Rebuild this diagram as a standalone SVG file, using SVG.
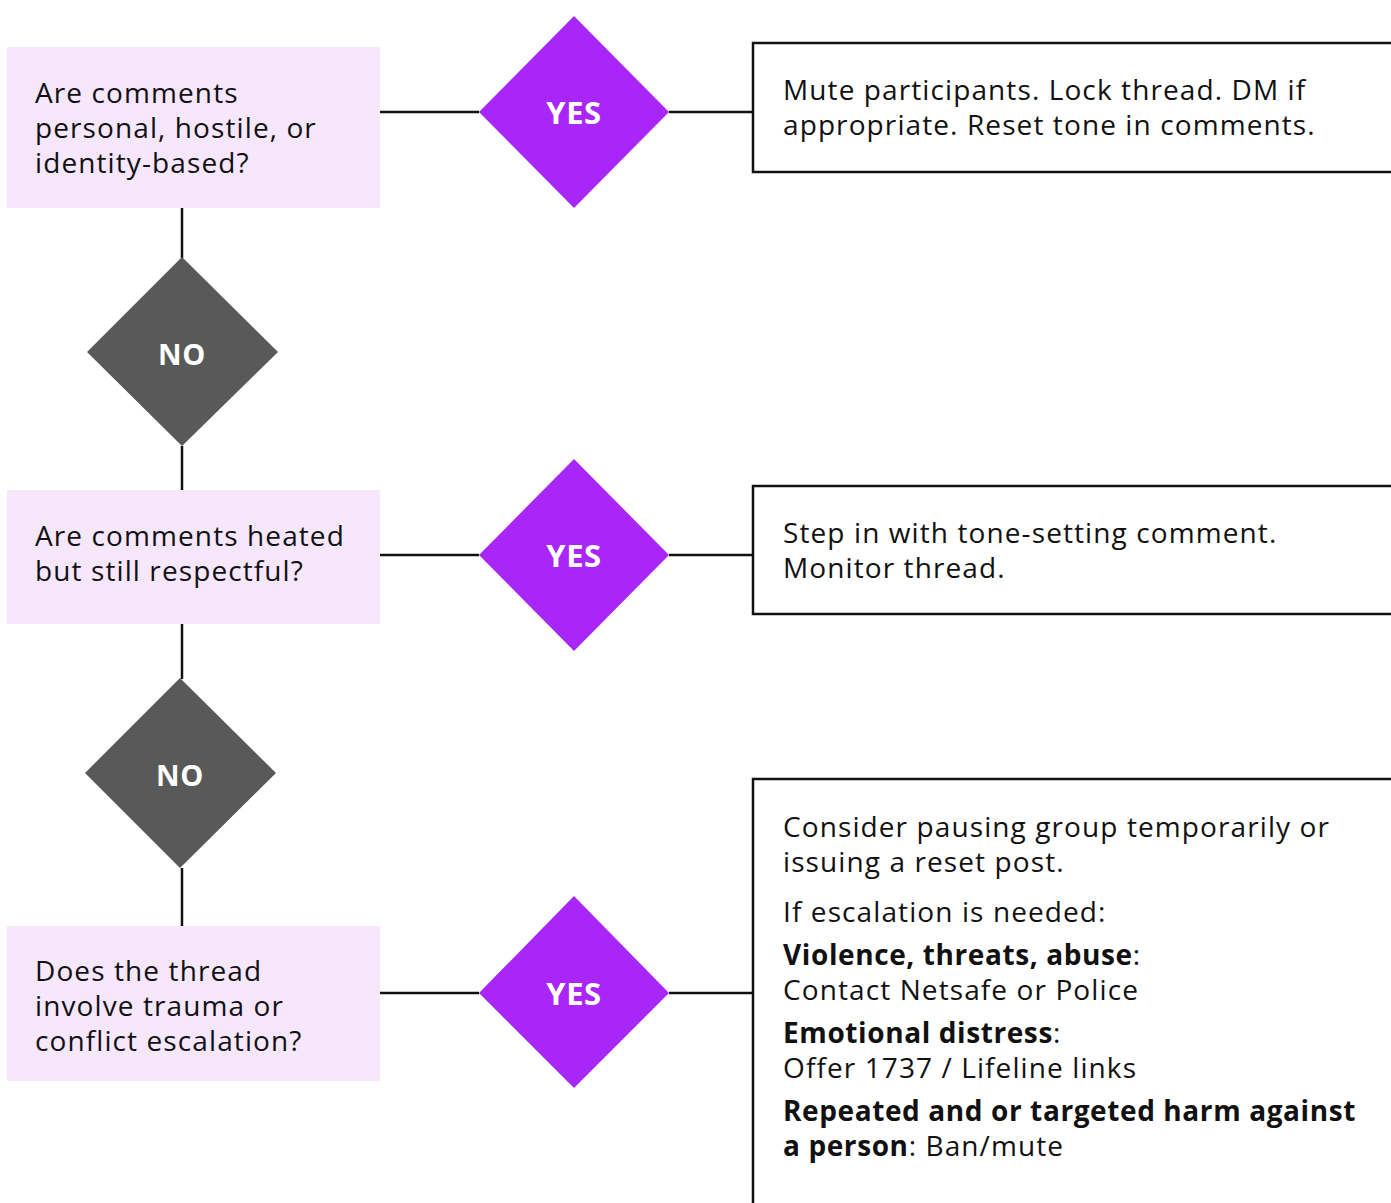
<svg xmlns="http://www.w3.org/2000/svg" width="1391" height="1203" viewBox="0 0 1391 1203">
<style>
.q{fill:#F6E7FD}
.yes{fill:#A926F9}
.no{fill:#595959}
.res{fill:#ffffff;stroke:#111111;stroke-width:2.5}
.t{font-family:"Open Sans","Liberation Sans",sans-serif;font-size:28px;letter-spacing:1.1px;fill:#111111}
.b{font-weight:bold;letter-spacing:0.6px}
.lbl{font-family:"Open Sans","Liberation Sans",sans-serif;font-size:29px;letter-spacing:0.6px;font-weight:bold;fill:#ffffff;text-anchor:middle}
.ly{font-size:31px}
.c{stroke:#111111;stroke-width:2.5;fill:none}
</style>
<rect width="1391" height="1203" fill="#ffffff"/>
<g id="connectors">
<line class="c" x1="380" y1="112" x2="479" y2="112"/>
<line class="c" x1="669" y1="112" x2="753" y2="112"/>
<line class="c" x1="380" y1="555" x2="479" y2="555"/>
<line class="c" x1="669" y1="555" x2="753" y2="555"/>
<line class="c" x1="380" y1="993" x2="479" y2="993"/>
<line class="c" x1="669" y1="993" x2="753" y2="993"/>
<line class="c" x1="182" y1="208" x2="182" y2="258"/>
<line class="c" x1="182" y1="446" x2="182" y2="490"/>
<line class="c" x1="182" y1="624" x2="182" y2="679"/>
<line class="c" x1="182" y1="868" x2="182" y2="926"/>
</g>
<g id="q1">
<rect class="q" x="7" y="47" width="373" height="161"/>
<text class="t" x="35" y="103">Are comments</text>
<text class="t" x="35" y="138">personal, hostile, or</text>
<text class="t" x="35" y="173">identity-based?</text>
</g>
<g id="yes1">
<polygon class="yes" points="574,16 669,112 574,208 479,112"/>
<text class="lbl ly" x="574" y="124">YES</text>
</g>
<g id="r1">
<rect class="res" x="753" y="43" width="660" height="129"/>
<text class="t" x="783" y="100">Mute participants. Lock thread. DM if</text>
<text class="t" x="783" y="135">appropriate. Reset tone in comments.</text>
</g>
<g id="no1">
<polygon class="no" points="182,257 278,352 182,446 87,352"/>
<text class="lbl" x="182" y="365">NO</text>
</g>
<g id="q2">
<rect class="q" x="7" y="490" width="373" height="134"/>
<text class="t" x="35" y="546">Are comments heated</text>
<text class="t" x="35" y="581">but still respectful?</text>
</g>
<g id="yes2">
<polygon class="yes" points="574,459 669,555 574,651 479,555"/>
<text class="lbl ly" x="574" y="567">YES</text>
</g>
<g id="r2">
<rect class="res" x="753" y="486" width="660" height="128"/>
<text class="t" x="783" y="543">Step in with tone-setting comment.</text>
<text class="t" x="783" y="578">Monitor thread.</text>
</g>
<g id="no2">
<polygon class="no" points="180,678 276,773 180,868 85,773"/>
<text class="lbl" x="180" y="786">NO</text>
</g>
<g id="q3">
<rect class="q" x="7" y="926" width="373" height="155"/>
<text class="t" x="35" y="981">Does the thread</text>
<text class="t" x="35" y="1016">involve trauma or</text>
<text class="t" x="35" y="1051">conflict escalation?</text>
</g>
<g id="yes3">
<polygon class="yes" points="574,896 669,993 574,1088 479,993"/>
<text class="lbl ly" x="574" y="1005">YES</text>
</g>
<g id="r3">
<rect class="res" x="753" y="779" width="660" height="460"/>
<text class="t" x="783" y="837">Consider pausing group temporarily or</text>
<text class="t" x="783" y="872">issuing a reset post.</text>
<text class="t" x="783" y="922">If escalation is needed:</text>
<text class="t" x="783" y="965"><tspan class="b">Violence, threats, abuse</tspan>:</text>
<text class="t" x="783" y="1000">Contact Netsafe or Police</text>
<text class="t" x="783" y="1043"><tspan class="b">Emotional distress</tspan>:</text>
<text class="t" x="783" y="1078">Offer 1737 / Lifeline links</text>
<text class="t" x="783" y="1121"><tspan class="b">Repeated and or targeted harm against</tspan></text>
<text class="t" x="783" y="1156"><tspan class="b">a person</tspan>: Ban/mute</text>
</g>
</svg>
